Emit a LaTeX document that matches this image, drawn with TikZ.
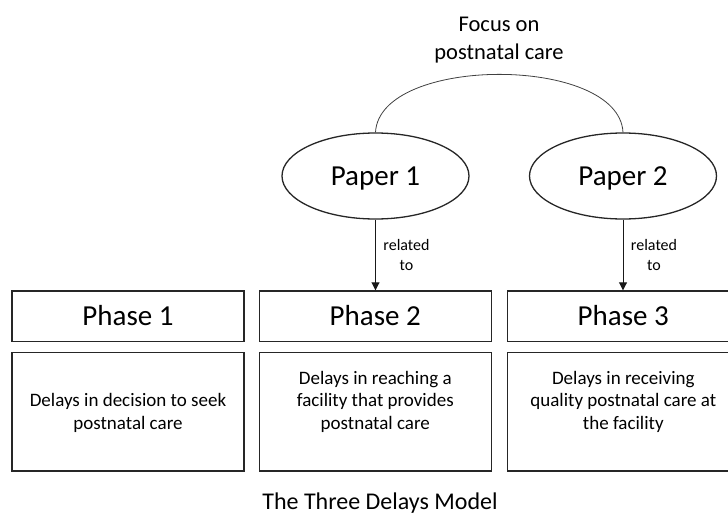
\documentclass[tikz,border=0pt]{standalone}
\usepackage{fontspec}
\setmainfont{Carlito}
\usetikzlibrary{shapes.geometric,arrows.meta,calc}
\begin{document}
\begin{tikzpicture}[x=1pt,y=-1pt,
  phasebox/.style={draw=black!85,line width=1.3pt,minimum width=232pt,minimum height=50.7pt,inner sep=0pt,
    font=\fontsize{29}{35}\selectfont,text height=18.7pt,text depth=0pt},
  descbox/.style={draw=black!85,line width=1.3pt,minimum width=232pt,minimum height=118.3pt,inner sep=0pt},
  desctext/.style={align=center,font=\fontsize{19}{22.7}\selectfont,inner sep=0pt},
  paper/.style={ellipse,draw=black!85,line width=1.3pt,minimum width=187pt,minimum height=86pt,inner sep=0pt,
    font=\fontsize{29}{35}\selectfont,text height=18.7pt,text depth=0pt},
  arr/.style={draw=black!90,line width=0.9pt,-{Triangle[width=8pt,length=8pt]}},
  rlab/.style={align=center,font=\fontsize{16}{19.5}\selectfont,inner sep=0pt,xshift=31pt}
  ]
\useasboundingbox (0,0) rectangle (728,514);
\clip (0,0) rectangle (728,514);

% Phase boxes
\node[phasebox] (ph1) at (128,316.3) {Phase 1};
\node[phasebox] (ph2) at (375.3,316.3) {Phase 2};
\node[phasebox] (ph3) at (623.3,316.3) {Phase 3};

% Description boxes
\node[descbox] (d1) at (128,411.9) {};
\node[descbox] (d2) at (375.3,411.9) {};
\node[descbox] (d3) at (623.3,411.9) {};
\node[desctext] (t1) at ($(d1.center)+(0,1)$) {Delays in decision to seek\\postnatal care};
\node[desctext] (t2) at ($(d2.center)+(0,-10)$) {Delays in reaching a\\facility that provides\\postnatal care};
\node[desctext] (t3) at ($(d3.center)+(0,-10)$) {Delays in receiving\\quality postnatal care at\\the facility};

% Papers
\node[paper] (p1) at (375.5,176) {Paper 1};
\node[paper] (p2) at (623,176) {Paper 2};

% Focus label and arc
\node[align=center,font=\fontsize{22.5}{27.6}\selectfont,inner sep=0pt] (focus) at (499,40) {Focus on\\postnatal care};
\draw[black!75,line width=0.8pt] (p1.north) .. controls +(4,-77.3) and +(-4,-77.3) .. (p2.north);

% Arrows
\draw[arr] (p1.south) -- node[rlab] {related\\to} (p1.south |- ph2.north);
\draw[arr] (p2.south) -- node[rlab] {related\\to} (p2.south |- ph3.north);

% Title
\node[anchor=base,font=\fontsize{24}{29}\selectfont,inner sep=0pt] (title) at (380,509) {The Three Delays Model};
\end{tikzpicture}
\end{document}
